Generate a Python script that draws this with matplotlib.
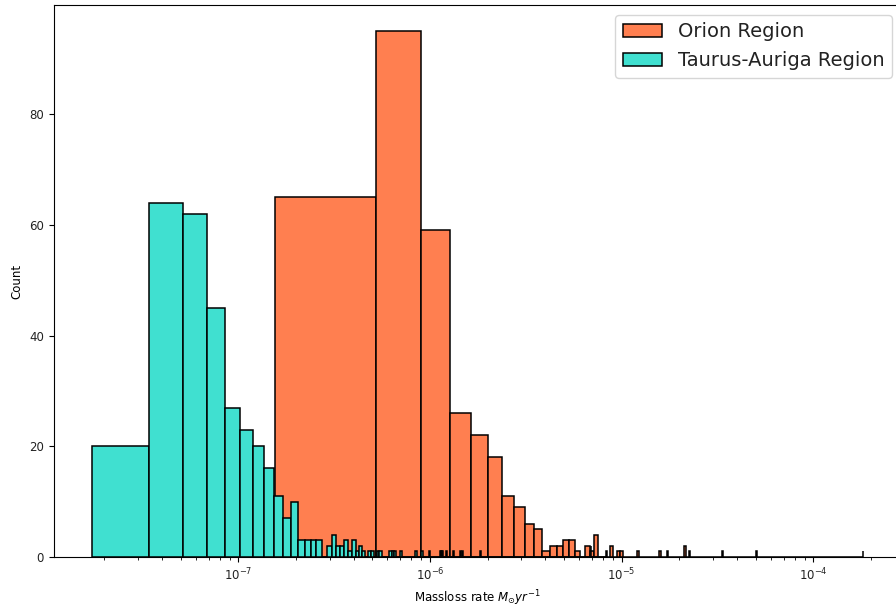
import numpy as np
import matplotlib
matplotlib.use("Agg")
import matplotlib.pyplot as plt

# ---- data (linear-width bins, shown on a log x axis) ----
orion_bin_start = 1.553e-7
orion_bin_width = 3.698e-7
orion_n_bins = 492
orion_bin_index = [0, 1, 2, 3, 4, 5, 6, 7, 8, 9, 10, 11, 12, 13, 14, 15, 17, 18, 19,
                   23, 25, 26, 32, 42, 46, 57, 60, 90, 136, 491]
orion_counts = [65, 95, 59, 26, 22, 18, 11, 9, 6, 5, 1, 2, 2, 3, 3, 1, 2, 1, 4,
                2, 1, 1, 1, 1, 1, 2, 1, 1, 1, 1]

taurus_bin_start = 1.73e-8
taurus_bin_width = 1.703e-8
taurus_n_bins = 489
taurus_bin_index = [0, 1, 2, 3, 4, 5, 6, 7, 8, 9, 10, 11, 12, 13, 14,
                    16, 17, 18, 19, 20, 21, 22, 23, 24, 25,
                    27, 28, 30, 31, 35, 36, 37, 40, 48, 52, 57,
                    65, 66, 67, 70, 76, 83, 85, 106, 404, 488]
taurus_counts = [20, 64, 62, 45, 27, 23, 20, 16, 11, 7, 10, 3, 3, 3, 3,
                 2, 4, 2, 2, 3, 1, 3, 1, 2, 1,
                 1, 1, 1, 1, 1, 1, 1, 1, 1, 1, 1,
                 1, 1, 1, 1, 1, 1, 1, 1, 2, 1]

series_labels = ["Orion Region", "Taurus-Auriga Region"]
series_colors = ["coral", "turquoise"]

plt.rcParams["font.size"] = 8.5
plt.rcParams["text.color"] = "#222222"
plt.rcParams["xtick.labelcolor"] = "#222222"
plt.rcParams["ytick.labelcolor"] = "#222222"

fig = plt.figure(figsize=(8.96, 6.07), dpi=100)
ax = fig.add_axes([0.0599, 0.0824, 0.9466, 0.9094])


def build(start, width, n, idx, cnt):
    edges = start + width * np.arange(n + 1)
    centers = 0.5 * (edges[:-1] + edges[1:])
    w = np.zeros(n)
    w[np.array(idx)] = cnt
    return centers, edges, w


oc, oe, ow = build(orion_bin_start, orion_bin_width, orion_n_bins,
                   orion_bin_index, orion_counts)
tc, te, tw = build(taurus_bin_start, taurus_bin_width, taurus_n_bins,
                   taurus_bin_index, taurus_counts)

ax.hist(oc, bins=oe, weights=ow, color=series_colors[0], edgecolor="black",
        linewidth=1.1, label=series_labels[0])
ax.hist(tc, bins=te, weights=tw, color=series_colors[1], edgecolor="black",
        linewidth=1.1, label=series_labels[1])

ax.set_xscale("log")
ax.set_yticks([0, 20, 40, 60, 80])
ax.set_xlabel(r"Massloss rate $M_{\odot} yr^{-1}$")
ax.set_ylabel("Count")
ax.legend(loc="upper right", fontsize=14)

fig.savefig("out.png", dpi=100)
